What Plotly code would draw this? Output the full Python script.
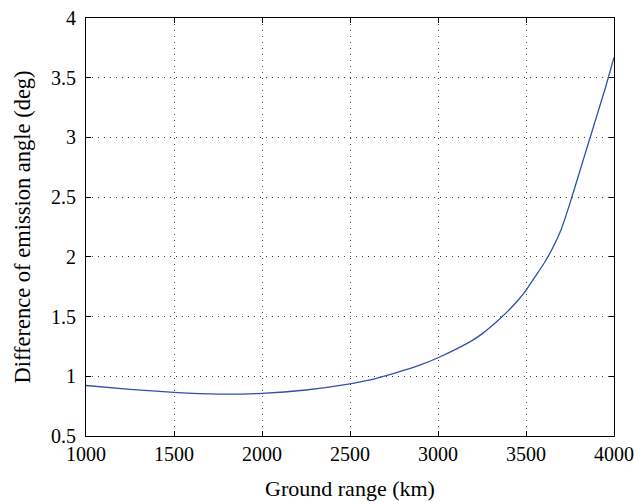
import plotly.graph_objects as go

# Ground range (km) and difference of emission angle (deg)
ground_range = [1000, 1250, 1500, 1750, 2000, 2250, 2500, 2600, 2750, 2900,
                3000, 3100, 3200, 3250, 3300, 3350, 3400, 3450, 3500, 3550,
                3600, 3650, 3700, 3750, 3800, 3850, 3900, 3950, 4000]
angle_diff = [0.923, 0.890, 0.865, 0.851, 0.857, 0.885, 0.936, 0.965, 1.025, 1.095,
              1.155, 1.225, 1.305, 1.355, 1.415, 1.480, 1.550, 1.628, 1.720, 1.830,
              1.940, 2.070, 2.230, 2.450, 2.690, 2.930, 3.170, 3.410, 3.670]

x_ticks = [1000, 1500, 2000, 2500, 3000, 3500, 4000]
y_ticks = [0.5, 1, 1.5, 2, 2.5, 3, 3.5, 4]
y_tick_text = ["0.5", "1", "1.5", "2", "2.5", "3", "3.5", "4"]

font_family = "Liberation Serif"

fig = go.Figure()
fig.add_trace(go.Scatter(
    x=ground_range, y=angle_diff, mode="lines",
    line=dict(color="#2f51aa", width=1.3, shape="spline", smoothing=0.4),
    showlegend=False,
))

axis_common = dict(
    showline=True, linecolor="black", linewidth=1.2, mirror="allticks",
    ticks="inside", ticklen=5, tickcolor="black", tickwidth=1,
    showgrid=True, gridcolor="#444444", gridwidth=1, griddash="1px,5px",
    zeroline=False, automargin=False, ticklabeloverflow="allow",
    tickfont=dict(family=font_family, size=20, color="black"),
)

fig.update_xaxes(range=[1000, 4000], tickvals=x_ticks,
                 title=dict(text="Ground range (km)", standoff=16,
                            font=dict(family=font_family, size=22, color="black")),
                 **axis_common)
fig.update_yaxes(range=[0.5, 4], tickvals=y_ticks, ticktext=y_tick_text,
                 ticklabelstandoff=5,
                 title=dict(text="Difference of emission angle (deg)", standoff=14,
                            font=dict(family=font_family, size=22.5, color="black")),
                 **axis_common)

fig.update_layout(
    width=634, height=502,
    margin=dict(l=86, r=20, t=18, b=66),
    paper_bgcolor="white", plot_bgcolor="white",
    font=dict(family=font_family, color="black"),
)

fig.write_html("out.html")
